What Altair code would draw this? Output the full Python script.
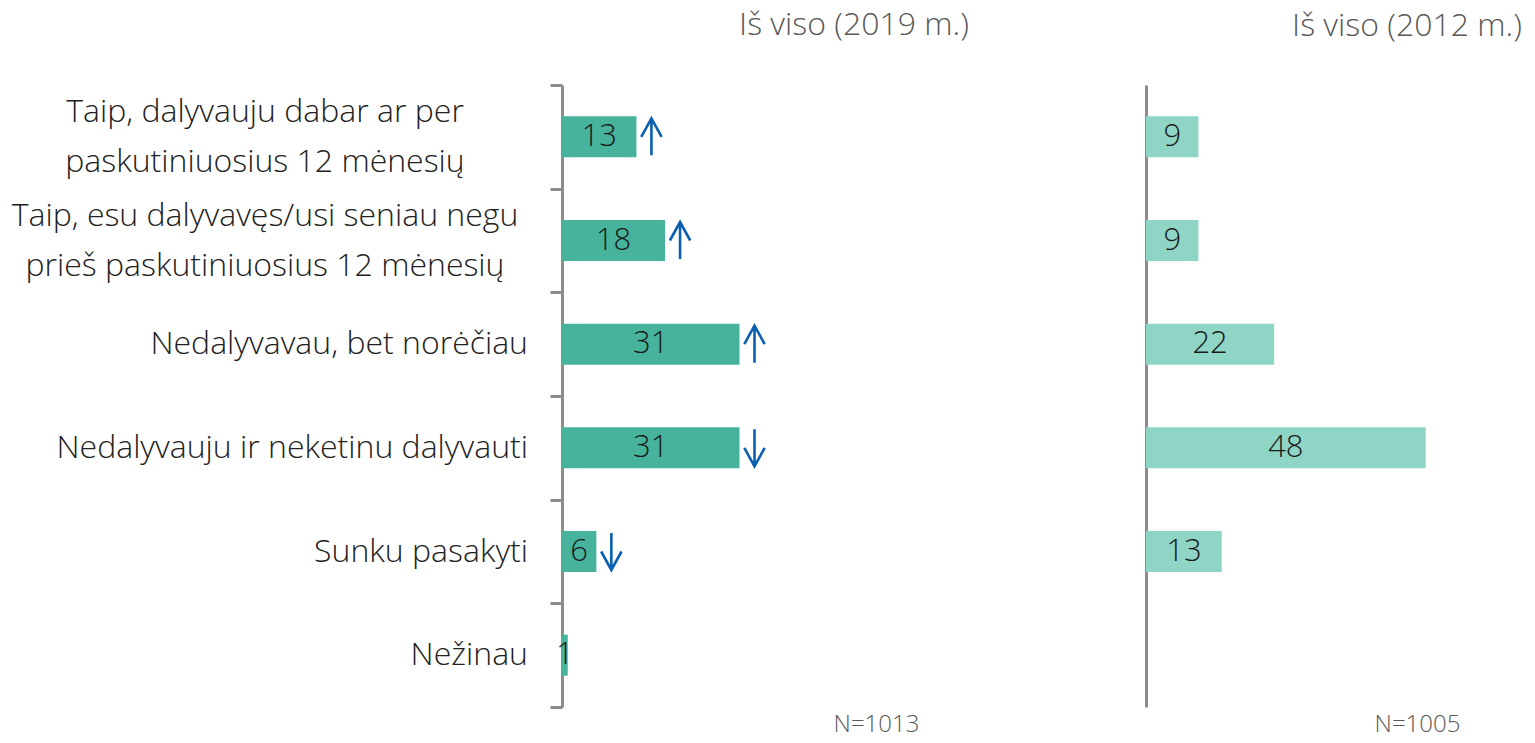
import altair as alt
import pandas as pd

categories = [
    "Taip, dalyvauju dabar ar per|paskutiniuosius 12 mėnesių",
    "Taip, esu dalyvavęs/usi seniau negu|prieš paskutiniuosius 12 mėnesių",
    "Nedalyvavau, bet norėčiau",
    "Nedalyvauju ir neketinu dalyvauti",
    "Sunku pasakyti",
    "Nežinau",
]
values_2019 = [13, 18, 31, 31, 6, 1]
arrows_2019 = ["up", "up", "up", "down", "down", ""]
values_2012 = [9, 9, 22, 48, 13, None]

FONT = "Open Sans"
AXIS_GRAY = "#8c8c8c"
UP_PATH = "M0,1 L0,-1 M-0.55,0 L0,-1 L0.55,0"
DOWN_PATH = "M0,-1 L0,1 M-0.55,0 L0,1 L0.55,0"

parts = [c.split("|") for c in categories]
df19 = pd.DataFrame({
    "cat": categories, "value": values_2019, "arrow": arrows_2019,
    "line_a": [p[0] for p in parts],
    "line_b": [p[1] if len(p) > 1 else "" for p in parts],
    "nlines": [len(p) for p in parts],
})
df12 = pd.DataFrame({"cat": categories, "value": values_2012})

ysc = alt.Scale(domain=categories, paddingInner=0, paddingOuter=0)
YENC = alt.Y("cat:N", sort=categories)


def panel(df, color, width, xmax, title, title_dx, title_offset, ntext, ntitle_x, left_side):
    base = alt.Chart(df)
    y_axis = alt.Axis(
        title=None,
        labels=False,
        ticks=left_side,
        tickBand="extent",
        tickSize=12,
        tickWidth=3,
        tickColor=AXIS_GRAY,
        domainColor=AXIS_GRAY,
        domainWidth=3,
        grid=False,
    )
    x_axis = alt.Axis(
        labels=False, ticks=False, domain=False, grid=False,
        title=ntext, titleFont=FONT, titleFontSize=24, titleFontWeight=300,
        titleColor="#595959", titleX=ntitle_x, titleAlign="center", titlePadding=5,
    )
    x = alt.X("value:Q", scale=alt.Scale(domain=[0, xmax], nice=False, zero=True), axis=x_axis)
    y = alt.Y("cat:N", scale=ysc, axis=y_axis, sort=categories)
    bars = base.mark_bar(size=41, color=color).encode(x=x, y=y)
    text = base.transform_filter("isValid(datum.value)").transform_calculate(
        mid="datum.value / 2"
    ).mark_text(font=FONT, fontSize=31, fontWeight=300, color="#1a1a1a", baseline="middle").encode(
        x=alt.X("mid:Q"), y=YENC, text=alt.Text("value:Q")
    )
    layers = [bars, text]
    if left_side:
        lab_style = dict(font=FONT, fontSize=32, fontWeight=300, color="#222222",
                         baseline="middle")
        lab_single = base.transform_filter("datum.nlines == 1").mark_text(
            align="right", dx=-34, **lab_style).encode(x=alt.datum(0), y=YENC, text="line_a:N")
        lab_top = base.transform_filter("datum.nlines == 2").mark_text(
            align="center", dx=-297, dy=-25, **lab_style).encode(x=alt.datum(0), y=YENC, text="line_a:N")
        lab_bot = base.transform_filter("datum.nlines == 2").mark_text(
            align="center", dx=-297, dy=25, **lab_style).encode(x=alt.datum(0), y=YENC, text="line_b:N")
        layers += [lab_single, lab_top, lab_bot]
        for kind, path in (("up", UP_PATH), ("down", DOWN_PATH)):
            arr = base.transform_filter(f"datum.arrow == '{kind}'").mark_point(
                shape=path, size=1369, filled=False, stroke="#0b5fb0", strokeWidth=2.6,
                xOffset=15, opacity=1,
            ).encode(x=alt.X("value:Q"), y=YENC)
            layers.append(arr)
    return alt.layer(*layers).properties(
        width=width, height=622,
        title=alt.TitleParams(
            title, font=FONT, fontSize=32, fontWeight=300, color="#595959",
            anchor="middle", dx=title_dx, offset=title_offset,
        ),
    )


left = panel(df19, "#47b39c", 584, 102, "Iš viso (2019 m.)", 0, 42, "N=1013", 314, True)
right = panel(df12, "#8ed5c5", 370, 63.5, "Iš viso (2012 m.)", 76, 42, "N=1005", 271, False)

chart = alt.hconcat(left, right, spacing=0).properties(
    padding={"left": 3, "top": 0, "right": 0, "bottom": 0}
).configure_view(stroke=None)

chart.save("out.html", embed_options={"renderer": "svg", "actions": False})
